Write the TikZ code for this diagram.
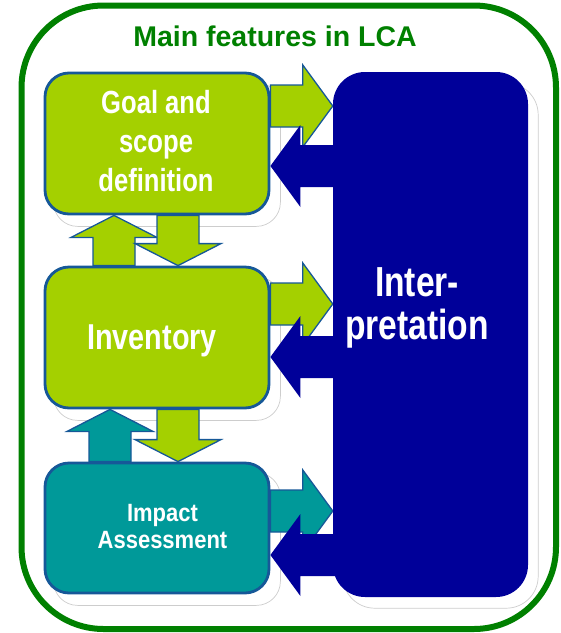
\documentclass[tikz,border=0pt]{standalone}
\usepackage{fontspec}
\setmainfont{Liberation Sans}
\newfontfamily\narrowsf{Liberation Sans}[FakeStretch=0.8]
\newfontfamily\semisf{Liberation Sans}[FakeStretch=0.88]
\usetikzlibrary{calc,backgrounds}

\definecolor{framegreen}{RGB}{0,128,0}
\definecolor{limefill}{RGB}{164,208,0}
\definecolor{tealfill}{RGB}{0,153,153}
\definecolor{navyfill}{RGB}{0,0,153}
\definecolor{edgeblue}{RGB}{22,88,152}
\definecolor{shadowgray}{RGB}{205,205,205}

\begin{document}
\begin{tikzpicture}[x=1pt,y=-1pt,
  box/.style={draw=edgeblue, line width=2.8pt, rounded corners=24pt, inner sep=0pt},
  shadowline/.style={draw=shadowgray, line width=0.7pt, rounded corners=24pt},
  % block arrow between two points: shaft half width, head half width, head length
  blk/.style n args={3}{to path={
    ($(\tikztostart)!#1!90:(\tikztotarget)$) --
    ($($(\tikztotarget)!#3!(\tikztostart)$)!#1!-90:(\tikztostart)$) --
    ($($(\tikztotarget)!#3!(\tikztostart)$)!#2!-90:(\tikztostart)$) --
    (\tikztotarget) --
    ($($(\tikztotarget)!#3!(\tikztostart)$)!#2!90:(\tikztostart)$) --
    ($($(\tikztotarget)!#3!(\tikztostart)$)!#1!90:(\tikztostart)$) --
    ($(\tikztostart)!#1!-90:(\tikztotarget)$) -- cycle}},
  hblk/.style={blk={21pt}{41pt}{30pt}},
  vblk/.style={blk={21pt}{43pt}{22pt}},
  limearrow/.style={draw=edgeblue, line width=1.3pt, fill=limefill, line join=miter},
  tealarrow/.style={draw=edgeblue, line width=1.3pt, fill=tealfill, line join=miter},
  navyarrow/.style={fill=navyfill},
  boxtext/.style={text=white, align=center, inner sep=0pt}
]
\useasboundingbox (0,0) rectangle (561,633);

% outer frame and heading
\draw[framegreen, line width=6pt, rounded corners=82pt] (21.5,5.5) rectangle (556,629);
\node[anchor=base, text=framegreen, inner sep=0pt,
      font=\bfseries\fontsize{28.5}{30}\selectfont] (title) at (275,46) {Main features in LCA};

% stage boxes
\node[box, fill=limefill, minimum width=224pt, minimum height=141pt] (goal) at (157,143.5) {};
\node[box, fill=limefill, minimum width=224pt, minimum height=141pt] (inv) at (157,337.5) {};
\node[box, fill=tealfill, minimum width=224pt, minimum height=130pt] (imp) at (157,528) {};
\node[fill=navyfill, rounded corners=32pt, minimum width=195pt, minimum height=525pt, inner sep=0pt] (interp) at (430.5,334.5) {};

\node[boxtext, font=\narrowsf\bfseries\fontsize{32}{39}\selectfont] (goaltxt) at (156,141.5) {Goal and\\scope\\definition};
\node[boxtext, font=\narrowsf\bfseries\fontsize{36}{40}\selectfont] (invtxt) at (152,341) {Inventory};
\node[boxtext, font=\semisf\bfseries\fontsize{25}{27}\selectfont] (imptxt) at (162.5,527) {Impact\\Assessment};
\node[boxtext, font=\narrowsf\bfseries\fontsize{42}{43}\selectfont] (interptxt) at (417,308) {Inter-\\pretation};

\begin{scope}[on background layer]
  % soft drop outlines
  \foreach \n in {goal,inv,imp}
    \draw[shadowline] ($(\n.north west)+(10,11)$) rectangle ($(\n.south east)+(10,11)$);
  \draw[shadowline, rounded corners=32pt] ($(interp.north west)+(10,11)$) rectangle ($(interp.south east)+(10,11)$);

  % results passed on to interpretation
  \draw[limearrow] (goal.east |- 0,106) to[hblk] (interp.west |- 0,106);
  \draw[limearrow] (inv.east |- 0,304) to[hblk] (interp.west |- 0,304);
  \draw[tealarrow] (imp.east |- 0,511) to[hblk] (interp.west |- 0,511);

  % feedback from interpretation
  \coordinate (fb1) at ($(interp.west |- 0,166)+(8,0)$);
  \coordinate (fb2) at ($(interp.west |- 0,357)+(8,0)$);
  \coordinate (fb3) at ($(interp.west |- 0,555)+(8,0)$);
  \fill[navyarrow] (fb1) to[hblk] (goal.east |- 0,166);
  \fill[navyarrow] (fb2) to[hblk] (inv.east |- 0,357);
  \fill[navyarrow] (fb3) to[hblk] (imp.east |- 0,555);

  % exchanges between neighbouring stages
  \draw[limearrow] (inv.north -| 114,0) to[vblk] (goal.south -| 114,0);
  \draw[limearrow] (goal.south -| 178,0) to[vblk] (inv.north -| 178,0);
  \draw[tealarrow] (imp.north -| 110,0) to[vblk] (inv.south -| 110,0);
  \draw[limearrow] (inv.south -| 178,0) to[vblk] (imp.north -| 178,0);
\end{scope}
\end{tikzpicture}
\end{document}
